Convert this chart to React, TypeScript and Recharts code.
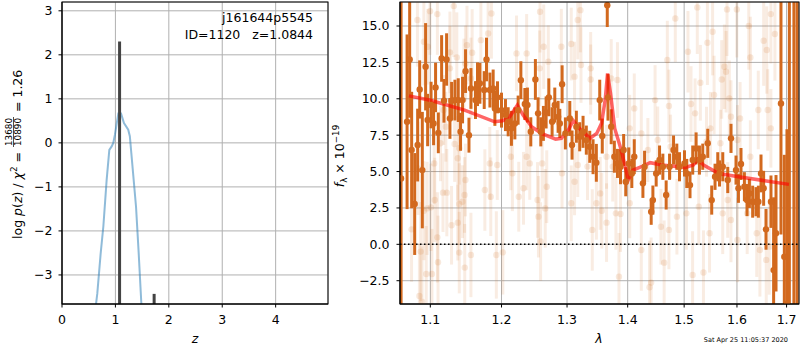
import React from "react";
import {
  ComposedChart,
  Line,
  Scatter,
  ErrorBar,
  XAxis,
  YAxis,
  CartesianGrid,
  ReferenceLine,
} from "recharts";

// p(z) curve (left panel)
const pzZ = [0.625, 0.637, 0.661, 0.724, 0.774, 0.836, 0.886, 0.93, 0.96, 0.99, 1.055, 1.105, 1.16, 1.24, 1.27, 1.32, 1.386, 1.436, 1.486, 1.51];
const pzLog = [-4.2, -3.66, -3.42, -2.51, -1.9, -0.84, -0.16, -0.08, 0.0, 0.18, 0.67, 0.67, 0.45, 0.3, 0.15, -0.54, -1.45, -2.51, -3.66, -4.4];

// chi2 spikes
const chiZ = [1.078, 1.725];
const chiTop = [2.3, -3.43];
const chiBase = -4.5;

const zTicks = [0, 1, 2, 3, 4];
const logpTicks = [-3, -2, -1, 0, 1, 2, 3];

// spectrum, good pixels
const lamDark = [
  1.0614, 1.0692, 1.0726, 1.0752, 1.0792, 1.0831, 1.0858, 1.0893, 1.0937, 1.0964,
  1.101, 1.1044, 1.1071, 1.1108, 1.1153, 1.1185, 1.1221, 1.1267, 1.129, 1.1336,
  1.1382, 1.1414, 1.1442, 1.1484, 1.1532, 1.156, 1.1624, 1.1653, 1.1687, 1.1749,
  1.1782, 1.1831, 1.1878, 1.1903, 1.1941, 1.2, 1.2058, 1.2098, 1.2146, 1.2197,
  1.2246, 1.2287, 1.2347, 1.2386, 1.2437, 1.2507, 1.2548, 1.259, 1.263, 1.2672,
  1.2714, 1.2765, 1.2807, 1.2859, 1.2886, 1.2922, 1.2974, 1.3044, 1.308, 1.3149,
  1.3203, 1.3257, 1.331, 1.3366, 1.342, 1.3474, 1.353, 1.3572, 1.3655, 1.3667,
  1.3721, 1.3774, 1.3826, 1.3878, 1.3931, 1.3967, 1.4019, 1.4071, 1.4113, 1.4263,
  1.4292, 1.4408, 1.4438, 1.4496, 1.4556, 1.4615, 1.4674, 1.4735, 1.4807, 1.4866,
  1.4915, 1.5006, 1.5048, 1.5108, 1.5158, 1.5221, 1.5283, 1.5345, 1.5439, 1.5514,
  1.5577, 1.5629, 1.5662, 1.5725, 1.5821, 1.5884, 1.5981, 1.6029, 1.6079, 1.6146,
  1.6198, 1.6245, 1.631, 1.6376, 1.6424, 1.6477, 1.653, 1.6578, 1.6679, 1.6733,
  1.6782, 1.6884, 1.6953, 1.7008, 1.7058, 1.7153, 1.722,
];
const fluxDark = [
  4.53, 8.42, 12.7, 6.48, 2.77, 6.82, 10.64, 5.1, 12.2, 8.54,
  9.57, 8.31, 10.78, 7.66, 12.77, 9.86, 12.7, 8.65, 9.86, 9.91,
  9.91, 7.73, 9.91, 11.9, 7.5, 10.71, 9.91, 11.0, 11.06, 10.6,
  12.7, 10.6, 10.71, 9.34, 10.1, 9.22, 8.88, 8.42, 7.97, 8.31,
  9.22, 11.28, 9.64, 9.57, 7.73, 11.33, 9.0, 7.73, 8.31, 9.06,
  10.1, 8.42, 9.57, 8.76, 8.31, 11.0, 7.62, 8.65, 6.82, 8.08,
  7.39, 7.73, 7.16, 6.7, 6.02, 5.6, 9.91, 7.44, 16.43, 10.1,
  8.08, 6.02, 5.56, 5.33, 6.48, 4.3, 5.56, 4.87, 6.02, 4.19,
  5.33, 2.24, 3.04, 4.87, 5.79, 5.33, 3.39, 5.33, 6.48, 6.02,
  5.33, 5.56, 4.87, 4.07, 5.79, 6.59, 5.79, 6.02, 6.94, 3.04,
  4.64, 5.33, 4.87, 5.33, 4.42, 7.28, 5.1, 3.85, 5.52, 3.96,
  3.04, 3.5, 2.93, 2.93, 2.93, 4.87, 3.85, 1.03, 2.93, -1.77,
  0.76, 9.68, -0.85, -4.1, -6, -6, -6,
];
const errDark = [
  14, 6, 4, 4, 3.5, 2.5, 2, 4, 3, 1.8,
  1.6, 1.5, 1.7, 1.4, 1.6, 1.5, 1.8, 1.4, 1.3, 1.4,
  1.5, 1.3, 1.6, 1.5, 1.2, 1.4, 1.3, 1.5, 1.4, 1.3,
  1.5, 1.2, 1.3, 1.2, 1.1, 1.2, 1.1, 1.0, 1.2, 1.1,
  1.0, 1.3, 1.1, 1.2, 1.0, 1.4, 1.1, 1.0, 1.2, 1.1,
  1.3, 1.0, 1.2, 1.1, 1.0, 1.3, 1.1, 1.2, 1.0, 1.1,
  1.0, 1.1, 1.0, 1.1, 1.2, 1.3, 1.4, 1.2, 1.5, 1.6,
  1.2, 1.1, 1.0, 1.2, 1.1, 1.0, 1.1, 1.0, 1.2, 1.0,
  1.1, 0.9, 1.0, 0.9, 1.0, 0.9, 1.0, 0.9, 1.0, 0.9,
  1.0, 0.9, 1.0, 0.9, 1.0, 1.1, 1.0, 0.9, 1.0, 1.0,
  0.9, 1.0, 0.9, 1.0, 0.9, 1.0, 1.0, 1.0, 1.1, 1.0,
  1.1, 1.0, 1.1, 1.0, 1.1, 1.3, 1.2, 1.4, 1.8, 5,
  4, 9, 7, 12, 25, 25, 25,
];

// spectrum, other (faint) pixels
const lamFaint = [
  1.132, 1.0996, 1.0828, 1.1095, 1.0914, 1.0966, 1.1267, 1.1362, 1.1504, 1.1577,
  1.1482, 1.1267, 1.1461, 1.156, 1.1181, 1.1332, 1.1375, 1.1482, 1.1172, 1.1224,
  1.147, 1.1396, 1.144, 1.0957, 1.106, 1.0914, 1.0751, 1.1009, 1.1289, 1.1375,
  1.1095, 1.0871, 1.1396, 1.156, 1.1104, 1.1473, 1.0945, 1.1022, 1.0854, 1.0889,
  1.1211, 1.1138, 1.1396, 1.1052, 1.0837,
  1.2578, 1.1853, 1.2222, 1.2374, 1.2635, 1.2706, 1.2573, 1.1701, 1.1805, 1.2137,
  1.1829, 1.1938, 1.2374, 1.2421, 1.2611, 1.2161, 1.2327, 1.1758, 1.1843, 1.2256,
  1.254, 1.2682, 1.2658, 1.2554, 1.1924, 1.2019, 1.2587,
  1.3214, 1.3172, 1.291, 1.3067, 1.3224, 1.312, 1.3381, 1.3381, 1.3721, 1.3826,
  1.4113, 1.4035, 1.3643, 1.3329, 1.3747, 1.3172, 1.3067, 1.3475, 1.3564, 1.38,
  1.3643, 1.3878, 1.4035, 1.3407, 1.3852, 1.312, 1.2921, 1.3538,
  1.4839, 1.5243, 1.507, 1.5433, 1.4695, 1.5531, 1.53, 1.4477, 1.4724, 1.5127,
  1.5202, 1.5559, 1.4235, 1.435, 1.4523, 1.4753, 1.5415, 1.549, 1.458, 1.4724,
  1.4868, 1.4235, 1.4638, 1.5156, 1.5358, 1.4407, 1.4379, 1.5473, 1.5041, 1.5271,
  1.5807, 1.5997, 1.6232, 1.6264, 1.6531, 1.6594, 1.6677, 1.6759, 1.5756, 1.5705,
  1.5788, 1.5851, 1.5883, 1.6423, 1.6061, 1.6613, 1.6677, 1.568, 1.601, 1.6264,
  1.582, 1.5724, 1.5883, 1.6391, 1.6455, 1.6582, 1.6645, 1.601, 1.6201,
];
const fluxFaint = [
  16.37, 16.02, 15.41, 15.82, 13.92, 13.58, 13.19, 12.84, 13.69, 13.16,
  12.43, 12.09, 11.63, 11.4, 9.23, 6.89, 5.91, 4.42, 3.55, 3.55,
  3.39, 2.77, 2.93, 2.47, 3.05, 2.31, 1.03, 2.54, 1.31, 1.49,
  0.48, -0.5, -0.57, -0.73, -1.23, -1.6, -2.04, -2.04, -3.55, -3.94,
  8.08, 6.94, 6.6, 5.56, 5.22,
  15.98, 15.86, 13.12, 13.12, 13.58, 12.55, 12.09, 14.03, 14.49, 6.02,
  5.56, 5.45, 6.02, 5.56, 5.56, 4.88, 3.85, 3.73, 3.27, 3.27,
  3.05, 3.96, 2.47, 1.9, -0.73, -0.55, 0.19,
  16.09, 15.41, 13.58, 13.76, 12.32, 11.52, 12.09, 11.33, 11.4, 11.29,
  9.34, 7.97, 6.02, 5.34, 5.34, 5.45, 2.82, 2.82, 2.31, 2.13,
  1.49, 2.08, 2.82, 0.99, -2.22, 4.3, 4.88, 3.5,
  15.52, 16.28, 13.23, 13.85, 12.66, 14.61, 11.1, 9.91, 9.5, 9.64,
  9.0, 10.26, 7.62, 6.48, 7.17, 6.71, 7.05, 7.97, 1.21, 0.99,
  1.9, -0.39, -1.26, -2.1, -1.94, -2.63, -2.95, 0.76, 2.13, 2.59,
  16.14, 16.14, 15.0, 12.84, 13.99, 13.35, 15.82, 14.45, 12.2, 11.33,
  11.86, 10.03, 8.77, 9.23, 8.65, 9.23, 7.97, 6.94, 7.17, 6.02,
  3.05, 2.13, 1.67, 0.76, -0.39, -1.07, -0.16, 0.3, 2.13,
];
const errFaint = [
  3.5, 3.0, 3.2, 2.8, 3.0, 2.6, 2.8, 3.1, 2.7, 3.0,
  2.6, 2.9, 2.5, 2.8, 2.4, 2.6, 2.9, 2.5, 2.7, 3.0,
  2.6, 2.8, 2.5, 3.2, 2.9, 3.4, 3.6, 3.0, 2.7, 2.6,
  3.1, 3.4, 2.8, 2.9, 3.2, 3.0, 3.3, 3.1, 3.6, 3.8,
  2.4, 2.6, 2.5, 2.8, 3.2,
  2.8, 3.1, 2.6, 2.7, 2.9, 2.5, 2.6, 3.0, 2.9, 2.3,
  2.5, 2.4, 2.3, 2.5, 2.4, 2.6, 2.5, 2.8, 2.7, 2.4,
  2.6, 2.5, 2.7, 2.8, 3.0, 2.9, 2.7,
  2.9, 2.7, 2.6, 2.5, 2.6, 2.4, 2.5, 2.4, 2.7, 2.6,
  2.4, 2.3, 2.2, 2.3, 2.4, 2.2, 2.6, 2.5, 2.6, 2.5,
  2.7, 2.6, 2.4, 2.8, 3.0, 2.3, 2.4, 2.5,
  3.0, 3.2, 2.8, 2.9, 2.7, 3.0, 2.6, 2.4, 2.5, 2.6,
  2.4, 2.7, 2.3, 2.2, 2.3, 2.2, 2.4, 2.5, 2.6, 2.7,
  2.6, 2.8, 2.9, 3.0, 2.9, 3.1, 3.2, 2.7, 2.5, 2.6,
  3.2, 3.3, 3.0, 2.8, 3.1, 3.0, 3.4, 3.2, 2.9, 2.7,
  2.8, 2.6, 2.5, 2.7, 2.5, 2.8, 2.7, 2.3, 2.4, 2.5,
  2.6, 2.8, 2.9, 3.0, 3.2, 3.4, 3.3, 2.9, 2.8,
];

// best-fit template
const modelLam = [
  1.0716, 1.1, 1.147, 1.19, 1.2015, 1.212, 1.2235, 1.232, 1.245, 1.26,
  1.282, 1.291, 1.302, 1.31, 1.32, 1.337, 1.348, 1.356, 1.362, 1.366,
  1.371, 1.378, 1.389, 1.401, 1.409, 1.424, 1.439, 1.46, 1.489, 1.501,
  1.517, 1.525, 1.536, 1.565, 1.603, 1.655, 1.705,
];
const modelFlux = [
  10.2, 9.9, 9.22, 8.42, 8.49, 8.76, 9.57, 8.88, 8.08, 7.62,
  7.23, 7.28, 7.85, 8.49, 7.96, 7.28, 7.62, 8.31, 9.91, 11.74,
  10.37, 7.96, 6.48, 4.42, 5.1, 5.33, 5.61, 5.45, 5.33, 5.26,
  5.45, 5.84, 5.45, 4.87, 4.65, 4.37, 4.12,
];

const lamTicks = [1.1, 1.2, 1.3, 1.4, 1.5, 1.6, 1.7];
const fluxTicks = [-2.5, 0, 2.5, 5, 7.5, 10, 12.5, 15];

const FONT = "DejaVu Sans, sans-serif";
const DARK = "#d2691e";

const pzData = pzZ.map((z, i) => ({ z, y: pzLog[i] }));
const chiData = chiZ.map((z, i) => [
  { z, y: chiBase },
  { z, y: chiTop[i] },
]);
const darkData = lamDark.map((lam, i) => ({ lam, flux: fluxDark[i], err: errDark[i] }));
const faintData = lamFaint.map((lam, i) => ({ lam, flux: fluxFaint[i], err: errFaint[i] }));
const modelData = modelLam.map((lam, i) => ({ lam, flux: modelFlux[i] }));

const mfmt = (s: string) => s.replace("-", "\u2212");
const tickStyle = { fill: "#000", fontSize: 12.5, fontFamily: FONT };

const darkDot = (p: any) => <circle cx={p.cx} cy={p.cy} r={3.2} fill={DARK} />;
const faintDot = (p: any) => (
  <circle cx={p.cx} cy={p.cy} r={3.2} fill={DARK} fillOpacity={0.15} />
);

function PzPanel() {
  return (
    <ComposedChart
      width={340}
      height={350}
      margin={{ top: 2, right: 12, bottom: 16, left: 24 }}
      style={{ position: "absolute", left: 0, top: 0 }}
    >
      <CartesianGrid stroke="#b0b0b0" strokeWidth={1} />
      <XAxis
        type="number"
        dataKey="z"
        domain={[0, 4.98]}
        ticks={zTicks}
        allowDataOverflow
        height={30}
        tickSize={3.5}
        tickMargin={8}
        stroke="#000"
        tick={tickStyle}
      />
      <YAxis
        type="number"
        dataKey="y"
        domain={[-3.66, 3.2]}
        ticks={logpTicks}
        allowDataOverflow
        width={38}
        tickSize={3.5}
        tickMargin={6}
        stroke="#000"
        tick={tickStyle}
        tickFormatter={(v: number) => mfmt(String(v))}
      />
      <Line
        data={pzData}
        dataKey="y"
        stroke="#1f77b4"
        strokeOpacity={0.5}
        strokeWidth={2}
        dot={false}
        isAnimationActive={false}
      />
      {chiData.map((d, i) => (
        <Line
          key={i}
          data={d}
          dataKey="y"
          stroke="#444"
          strokeWidth={3}
          dot={false}
          isAnimationActive={false}
        />
      ))}
    </ComposedChart>
  );
}

function SpecPanel() {
  return (
    <ComposedChart
      width={460}
      height={350}
      margin={{ top: 2, right: 1, bottom: 16, left: 20 }}
      style={{ position: "absolute", left: 340, top: 0 }}
    >
      <defs>
        <clipPath id="specClip">
          <rect x={60} y={2} width={399} height={302} />
        </clipPath>
      </defs>
      <CartesianGrid stroke="#b0b0b0" strokeWidth={1} />
      <XAxis
        type="number"
        dataKey="lam"
        scale="log"
        domain={[1.06, 1.726]}
        ticks={lamTicks}
        allowDataOverflow
        height={30}
        tickSize={3.5}
        tickMargin={8}
        stroke="#000"
        tick={tickStyle}
        tickFormatter={(v: number) => v.toFixed(1)}
      />
      <YAxis
        type="number"
        dataKey="flux"
        domain={[-4.1, 16.65]}
        ticks={fluxTicks}
        allowDataOverflow
        width={40}
        tickSize={3.5}
        tickMargin={7}
        stroke="#000"
        tick={tickStyle}
        tickFormatter={(v: number) => mfmt(v.toFixed(1))}
      />
      <Scatter data={faintData} shape={faintDot} isAnimationActive={false}>
        <ErrorBar
          dataKey="err"
          direction="y"
          width={0}
          stroke={DARK}
          strokeOpacity={0.13}
          strokeWidth={3}
          clipPath="url(#specClip)"
        />
      </Scatter>
      <Scatter data={darkData} shape={darkDot} isAnimationActive={false}>
        <ErrorBar
          dataKey="err"
          direction="y"
          width={0}
          stroke={DARK}
          strokeWidth={3}
          clipPath="url(#specClip)"
        />
      </Scatter>
      <Line
        data={modelData}
        dataKey="flux"
        stroke="red"
        strokeOpacity={0.6}
        strokeWidth={3.5}
        dot={false}
        isAnimationActive={false}
      />
      <ReferenceLine y={0} stroke="#000" strokeWidth={1.5} strokeDasharray="1.5 2.5" />
    </ComposedChart>
  );
}

function Labels() {
  return (
    <svg
      width={800}
      height={350}
      style={{ position: "absolute", left: 0, top: 0, pointerEvents: "none" }}
      fontFamily={FONT}
      fontSize={12.5}
    >
      <rect x={62} y={2} width={266} height={302} fill="none" stroke="#000" strokeWidth={1} />
      <rect x={400} y={2} width={399} height={302} fill="none" stroke="#000" strokeWidth={1} />

      <text x={313} y={22} textAnchor="end">j161644p5545</text>
      <text x={313} y={39} textAnchor="end">
        {"ID=1120\u00a0\u00a0\u00a0z=1.0844"}
      </text>
      <text x={195} y={343} textAnchor="middle" fontStyle="italic">z</text>
      <text x={599} y={343} textAnchor="middle" fontStyle="italic">λ</text>

      <g transform="translate(22,154) rotate(-90)">
        <text x={2} y={0} textAnchor="end">
          log <tspan fontStyle="italic">p</tspan>(<tspan fontStyle="italic">z</tspan>) /{" "}
          <tspan fontStyle="italic">χ</tspan>
          <tspan fontSize={8.8} dy={-5}>2</tspan>
          <tspan dy={5}> =</tspan>
        </text>
        <text x={22} y={-10.5} textAnchor="middle" fontSize={8.8}>13680</text>
        <line x1={7} x2={37} y1={-8.5} y2={-8.5} stroke="#000" strokeWidth={0.7} />
        <text x={22} y={-1} textAnchor="middle" fontSize={8.8}>10890</text>
        <text x={42} y={0} textAnchor="start">= 1.26</text>
      </g>

      <g transform="translate(344,156) rotate(-90)">
        <text x={0} y={0} textAnchor="middle">
          <tspan fontStyle="italic">f</tspan>
          <tspan fontSize={8.8} dy={3}>λ</tspan>
          <tspan dy={-3}> × 10</tspan>
          <tspan fontSize={8.8} dy={-5}>−19</tspan>
        </text>
      </g>

      <text x={788} y={342} textAnchor="end" fontSize={6.5}>
        Sat Apr 25 11:05:37 2020
      </text>
    </svg>
  );
}

export default function App() {
  return (
    <div
      style={{
        position: "absolute",
        left: 0,
        top: 0,
        width: 800,
        height: 350,
        background: "#fff",
      }}
    >
      <PzPanel />
      <SpecPanel />
      <Labels />
    </div>
  );
}
